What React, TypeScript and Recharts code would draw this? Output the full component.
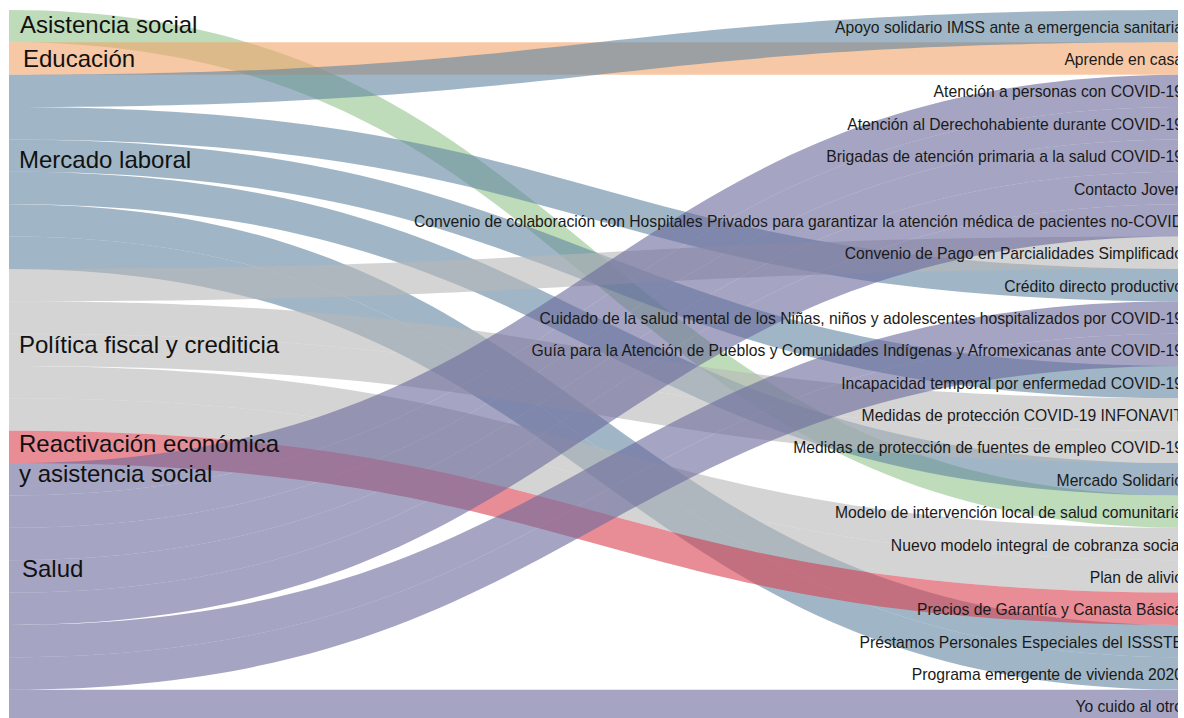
import { Sankey } from 'recharts';

// ejes temáticos (columna izquierda)
const SOURCES = [
  'Asistencia social',
  'Educación',
  'Mercado laboral',
  'Política fiscal y crediticia',
  'Reactivación económica y asistencia social',
  'Salud',
];

// programas (columna derecha), en el orden del gráfico
const PROGRAMS = [
  'Apoyo solidario IMSS ante a emergencia sanitaria',
  'Aprende en casa',
  'Atención a personas con COVID-19',
  'Atención al Derechohabiente durante COVID-19',
  'Brigadas de atención primaria a la salud COVID-19',
  'Contacto Joven',
  'Convenio de colaboración con Hospitales Privados para garantizar la atención médica de pacientes no-COVID',
  'Convenio de Pago en Parcialidades Simplificado',
  'Crédito directo productivo',
  'Cuidado de la salud mental de los Niñas, niños y adolescentes hospitalizados por COVID-19',
  'Guía para la Atención de Pueblos y Comunidades Indígenas y Afromexicanas ante COVID-19',
  'Incapacidad temporal por enfermedad COVID-19',
  'Medidas de protección COVID-19 INFONAVIT',
  'Medidas de protección de fuentes de empleo COVID-19',
  'Mercado Solidario',
  'Modelo de intervención local de salud comunitaria',
  'Nuevo modelo integral de cobranza social',
  'Plan de alivio',
  'Precios de Garantía y Canasta Básica',
  'Préstamos Personales Especiales del ISSSTE',
  'Programa emergente de vivienda 2020',
  'Yo cuido al otro',
];

// eje al que pertenece cada programa
const PROGRAM_SOURCE = [
  'Mercado laboral',
  'Educación',
  'Salud',
  'Salud',
  'Salud',
  'Salud',
  'Salud',
  'Política fiscal y crediticia',
  'Mercado laboral',
  'Salud',
  'Salud',
  'Mercado laboral',
  'Política fiscal y crediticia',
  'Política fiscal y crediticia',
  'Mercado laboral',
  'Asistencia social',
  'Política fiscal y crediticia',
  'Política fiscal y crediticia',
  'Reactivación económica y asistencia social',
  'Mercado laboral',
  'Mercado laboral',
  'Salud',
];

const PROGRAM_VALUE = [1, 1, 1, 1, 1, 1, 1, 1, 1, 1, 1, 1, 1, 1, 1, 1, 1, 1, 1, 1, 1, 1];

const COLORS: Record<string, string> = {
  'Asistencia social': '#93c58a',
  'Educación': '#f2a369',
  'Mercado laboral': '#6185a0',
  'Política fiscal y crediticia': '#b7b7b7',
  'Reactivación económica y asistencia social': '#d93f50',
  'Salud': '#69699b',
};
const LINK_OPACITY = 0.6;

// etiquetas de la izquierda: saltos de línea y ajuste fino respecto al centro del nodo
const LABEL_LINES: Record<string, string[]> = {
  'Reactivación económica y asistencia social': ['Reactivación económica', 'y asistencia social'],
};
const LABEL_NUDGE: Record<string, { dx: number; dy: number }> = {
  'Asistencia social': { dx: 12, dy: -2 },
  'Educación': { dx: 15, dy: -0.5 },
  'Mercado laboral': { dx: 11, dy: -12.5 },
  'Política fiscal y crediticia': { dx: 11, dy: -5 },
  'Reactivación económica y asistencia social': { dx: 11, dy: -3.5 },
  'Salud': { dx: 14, dy: -24 },
};

const FONT = '"Liberation Sans", Arial, sans-serif';

const nodes = [...SOURCES, ...PROGRAMS].map(name => ({ name }));
const links = SOURCES.flatMap((src, s) =>
  PROGRAMS.map((_, p) => p)
    .filter(p => PROGRAM_SOURCE[p] === src)
    .map(p => ({ source: s, target: SOURCES.length + p, value: PROGRAM_VALUE[p] })),
);

function RibbonLink(props: any) {
  const { sourceX, targetX, sourceY, targetY, sourceControlX, targetControlX, linkWidth, payload, index } = props;
  const h = linkWidth / 2;
  const srcName = payload?.source?.name ?? SOURCES[links[index]?.source];
  const d =
    `M${sourceX},${sourceY - h} C${sourceControlX},${sourceY - h} ${targetControlX},${targetY - h} ${targetX},${targetY - h}` +
    ` L${targetX},${targetY + h} C${targetControlX},${targetY + h} ${sourceControlX},${sourceY + h} ${sourceX},${sourceY + h} Z`;
  return <path d={d} fill={COLORS[srcName] ?? '#999'} fillOpacity={LINK_OPACITY} stroke="none" />;
}

function NodeLabel(props: any) {
  const { x, y, height, payload } = props;
  const name: string = payload.name;
  const cy = y + height / 2;
  if (payload.depth === 0 || SOURCES.includes(name)) {
    const nudge = LABEL_NUDGE[name] ?? { dx: 12, dy: 0 };
    const lines = LABEL_LINES[name] ?? [name];
    return (
      <text x={x + nudge.dx} y={cy + nudge.dy + 8.6} fontSize={24} fontFamily={FONT} fill="#111">
        {lines.map((l, i) => (
          <tspan key={i} x={x + nudge.dx} dy={i === 0 ? 0 : 30}>{l}</tspan>
        ))}
      </text>
    );
  }
  return (
    <text x={x - 2} y={cy + 6.5} textAnchor="end" fontSize={15.7} fontFamily={FONT} fill="#1a1a1a">
      {name}
    </text>
  );
}

export default function App() {
  return (
    <div style={{ position: 'absolute', left: 8, top: 0, width: 1170, height: 718, overflow: 'hidden', background: '#fff' }}>
      <Sankey
        width={1178}
        height={722}
        data={{ nodes, links }}
        nodeWidth={1}
        nodePadding={0}
        iterations={0}
        margin={{ top: 10, right: 0, bottom: 0, left: 0 }}
        link={(p: any) => <RibbonLink {...p} />}
        node={(p: any) => <NodeLabel {...p} />}
      />
    </div>
  );
}
